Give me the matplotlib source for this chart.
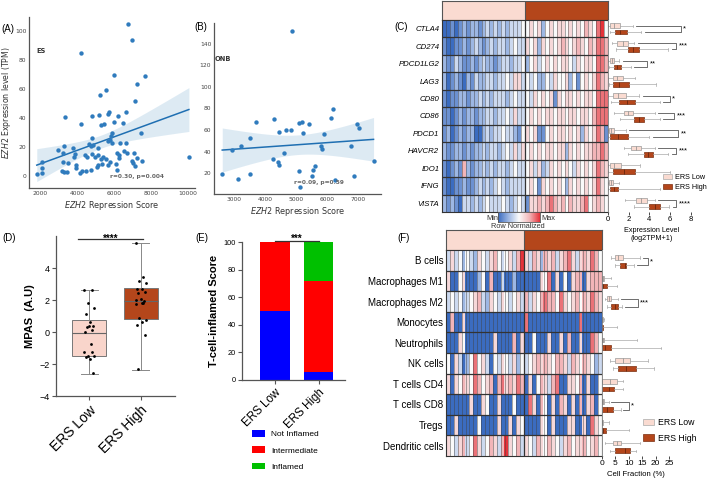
import numpy as np
import matplotlib
matplotlib.use('Agg')
import matplotlib.pyplot as plt
from matplotlib.colors import LinearSegmentedColormap, ListedColormap
from matplotlib.patches import Patch

plt.rcParams['font.family'] = 'Liberation Sans'
plt.rcParams['mathtext.fontset'] = 'dejavusans'

# ---------------- data ----------------
es_x = [6740, 6955, 4200, 6000, 7680, 7225, 5570, 5210, 7120, 5730, 5690, 6230, 6630, 4810,
        5190, 3330, 4200, 6000, 6490, 5310, 5440, 7440, 5870, 5820, 4810, 5780, 3300, 3800,
        4630, 4760, 4880, 5120, 5660, 5910, 6310, 6650, 2990, 3240, 3910, 3820, 4450, 4520,
        4810, 4940, 5310, 5390, 6180, 6290, 6560, 6720, 7100, 7260, 7530, 6940, 7040, 7150,
        6290, 5780, 6110, 6180, 5680, 5350, 5150, 5060, 4760, 4490, 4290, 4160, 3950, 3530,
        3170, 3310, 3440, 3230, 2120, 2120, 2120, 1820, 10040, 3960, 5570, 5150]
es_y = [104.8, 93.8, 85, 69.7, 69, 63.4, 59.5, 55.9, 52, 44.4, 42.8, 41.6, 44.4, 41.4,
        41.9, 40.7, 35.9, 37, 36.8, 35, 35.6, 29.9, 29.4, 27.8, 26, 25, 20.9, 19.5,
        22.3, 20.9, 21.4, 19.1, 24.1, 22.6, 23, 23, 17.7, 15.6, 15, 12.9, 14.5, 12.9,
        15, 13.3, 11.9, 12.9, 16.1, 14.5, 17.4, 15.9, 15.9, 12.2, 10.6, 10.3, 8.8, 6.9,
        12.2, 9.4, 8.1, 4.1, 7.6, 8.1, 7.6, 6.4, 4.1, 3.7, 3.7, 2.3, 5.3, 8.8,
        3.4, 3.0, 2.6, 9.9, 9.9, 5.3, 1.9, 1.2, 12.9, 7.8, 11.7, 14.5]

onb_x = [4870, 6180, 6120, 4290, 3710, 5100, 5200, 5400, 6970, 7030, 4670, 4820, 4460, 5220,
         5890, 3520, 5810, 5830, 6770, 3220, 2950, 4600, 4250, 4400, 4440, 7490, 5590, 5540,
         5100, 5510, 6860, 3520, 3140, 6250, 5130, 2620]
onb_y = [151.7, 79.4, 70.8, 70.1, 67.1, 66.7, 67.1, 65.8, 65.8, 62.1, 60.3, 60.3, 57.8, 56.9,
         56, 52.3, 44.9, 42.4, 45.5, 44.9, 41.8, 38.7, 33.2, 30.2, 27.7, 31.6, 27, 23.3,
         22.1, 17.8, 17.8, 19.6, 14.7, 13.8, 7.6, 19.1]

genes = ['CTLA4', 'CD274', 'PDCD1LG2', 'LAG3', 'CD80', 'CD86', 'PDCD1', 'HAVCR2', 'IDO1', 'IFNG', 'VISTA']
# row-normalized levels, 0 = min (blue), 4 = white, 8 = max (red); 21 ERS Low + 21 ERS High samples
gene_rows = [
    "001012122123232323334" + "454524545545454654784",
    "100112123212323323433" + "545254545654565465776",
    "211321121232212332334" + "245345454554354554776",
    "201210213223323343553" + "434224354452414545765",
    "101122122323233323433" + "435454515455454554777",
    "110121221223323343533" + "454545545545545546777",
    "120121220023233433214" + "545114545545452545761",
    "211221212232332343535" + "454545545525454556676",
    "101216212232323323433" + "453523545454354545765",
    "100112112323234323333" + "454154545425454545754",
    "212103323234333432343" + "155656765646556745654",
]
# (q1, median, q3, whisker low, whisker high)
gene_low = [(0.2, 0.6, 1.2, 0.0, 2.4), (0.9, 1.4, 1.9, 0.4, 2.5), (0.2, 0.4, 0.6, 0.0, 1.1),
            (0.5, 0.9, 1.4, 0.0, 2.6), (0.5, 1.0, 1.7, 0.0, 3.0), (1.5, 1.9, 2.4, 0.6, 4.5),
            (0.1, 0.3, 0.6, 0.0, 1.7), (2.2, 2.7, 3.2, 1.5, 4.5), (0.2, 0.6, 1.3, 0.0, 3.1),
            (0.1, 0.3, 0.5, 0.0, 1.1), (2.7, 3.2, 3.8, 1.6, 4.5)]
gene_high = [(0.7, 1.2, 1.8, 0.2, 3.2), (1.9, 2.4, 3.0, 0.8, 5.8), (0.6, 0.9, 1.3, 0.1, 2.2),
             (0.5, 1.1, 2.0, 0.1, 4.6), (1.1, 1.8, 2.6, 0.3, 5.0), (2.5, 3.0, 3.5, 1.2, 5.0),
             (0.2, 1.0, 1.9, 0.0, 4.0), (3.5, 3.9, 4.3, 1.9, 5.8), (0.5, 1.5, 2.6, 0.0, 6.0),
             (0.2, 0.6, 1.0, 0.0, 5.0), (4.0, 4.5, 5.0, 2.5, 5.9)]
gene_sig = [(7.0, '*'), (6.6, '***'), (3.8, '**'), None, (6.0, '*'), (6.4, '***'),
            (6.8, '**'), (6.6, '***'), None, None, (6.6, '****')]

cells = ['B cells', 'Macrophages M1', 'Macrophages M2', 'Monocytes', 'Neutrophils', 'NK cells',
         'T cells CD4', 'T cells CD8', 'Tregs', 'Dendritic cells']
cell_rows = [
    "35342432543564345368" + "53652656356753565764",
    "50045000240600300200" + "00005470504056605666",
    "34342345632543543453" + "63546766475456465765",
    "06005000000000000000" + "70000000000000700000",
    "00054000000050000605" + "00400050050600500764",
    "40530247453043543524" + "34565654665365465423",
    "50546547645606756576" + "05046536700554605004",
    "00000050054005000400" + "07506405065050605604",
    "00500000400005005054" + "00005405000550050754",
    "54356347534653685463" + "54365465435645564564",
]
cell_low = [(5.0, 6.0, 7.7, 3.5, 14.2), (0.0, 0.3, 0.8, 0.0, 3.5), (1.8, 2.5, 3.5, 1.0, 6.0),
            (0.0, 0.0, 0.3, 0.0, 0.8), (0.0, 0.2, 0.8, 0.0, 13.0), (5.0, 8.0, 10.5, 3.0, 17.0),
            (0.0, 3.0, 5.5, 0.0, 8.0), (0.0, 0.2, 0.8, 0.0, 2.5), (0.0, 0.0, 0.2, 0.0, 2.5),
            (4.0, 5.5, 7.0, 1.0, 14.0)]
cell_high = [(6.8, 8.5, 9.0, 5.0, 12.0), (0.0, 0.5, 2.0, 0.0, 5.5), (3.3, 5.0, 6.0, 2.0, 7.5),
             (0.0, 0.0, 0.2, 0.0, 5.5), (0.0, 1.0, 3.5, 0.0, 22.0), (6.0, 9.0, 12.5, 4.0, 19.5),
             (0.0, 2.5, 4.5, 0.0, 8.0), (0.0, 2.0, 4.0, 0.0, 7.0), (0.0, 0.5, 1.5, 0.0, 10.0),
             (5.0, 8.5, 10.5, 3.0, 12.5)]
cell_sig = [(17.3, '*'), None, (13.6, '***'), None, None, None, None, (10.0, '*'), None, None]

mpas_low = [2.6, 2.65, 1.8, 1.5, 1.1, 0.6, 0.35, 0.3, 0.35, 0.15, 0.0, -0.72, -1.24, -1.24,
            -1.5, -1.5, -1.55, -1.7, -2.55]
mpas_high = [5.57, 3.45, 3.2, 3.08, 2.67, 2.67, 2.5, 2.42, 2.05, 1.95, 2.0, 1.8, 1.76, 1.8,
             0.87, 0.77, 0.45, 0.6, -0.17, -2.34]
mpas_box_low = (-1.5, -0.05, 0.72, -2.6, 2.65)
mpas_box_high = (0.8, 1.95, 2.72, -2.35, 5.55)

groups = ['ERS Low', 'ERS High']
not_inflamed = [50, 5.5]
intermediate = [50, 66.5]
inflamed = [0, 28]

LOW = '#fadbd1'
HIGH = '#b4461b'
W, H = 709, 484
fig = plt.figure(figsize=(W / 100, H / 100), dpi=100)


def add_ax(x0, y0, x1, y1):
    return fig.add_axes([x0 / W, 1 - y1 / H, (x1 - x0) / W, (y1 - y0) / H])


def ftext(x, y, s, **kw):
    fig.text(x / W, 1 - y / H, s, **kw)


def stats(q):
    return dict(q1=q[0], med=q[1], q3=q[2], whislo=q[3], whishi=q[4], fliers=[])


def scatter_panel(ax, x, y, xlim, ylim, xticks, yticks, tag, tagpos, rtext, rpos):
    x = np.array(x, float)
    y = np.array(y, float)
    n = len(x)
    b, a = np.polyfit(x, y, 1)
    xs = np.linspace(x.min(), x.max(), 100)
    resid = y - (a + b * x)
    s2 = np.sum(resid ** 2) / (n - 2)
    se = np.sqrt(s2 * (1 / n + (xs - x.mean()) ** 2 / np.sum((x - x.mean()) ** 2)))
    fit = a + b * xs
    ax.fill_between(xs, fit - 1.99 * se, fit + 1.99 * se, color='#1f77b4', alpha=0.15, lw=0)
    ax.plot(xs, fit, color='#1f6fb2', lw=1.1)
    ax.scatter(x, y, s=10, color='#2f7bbd', lw=0, zorder=3)
    ax.set_xlim(*xlim)
    ax.set_ylim(*ylim)
    ax.set_xticks(xticks)
    ax.set_yticks(yticks)
    ax.tick_params(length=0, labelsize=4.3, labelcolor='#444', pad=2)
    for lbl in ax.get_xticklabels() + ax.get_yticklabels():
        lbl.set_fontfamily('DejaVu Sans')
    for s in ['top', 'right']:
        ax.spines[s].set_visible(False)
    for s in ['left', 'bottom']:
        ax.spines[s].set_color('#555')
        ax.spines[s].set_linewidth(0.9)
    ax.text(tagpos[0], tagpos[1], tag, transform=ax.transAxes, fontsize=4.8, fontweight='bold',
            family='DejaVu Sans', color='#333')
    ax.text(rpos[0], rpos[1], rtext, transform=ax.transAxes, fontsize=4.2, fontweight='bold',
            family='DejaVu Sans', color='#666', ha='center')
    ax.set_xlabel('$\\it{EZH2}$ Repression Score', fontsize=5.8, family='DejaVu Sans',
                  color='#333', labelpad=2)


cmap = LinearSegmentedColormap.from_list('rn', ['#3b6cc0', '#9db7e3', '#fbfbfb', '#f3b7ba', '#e5323a'])


def heatmap(ax, rows, labels, nlow, italic, fs):
    vals = np.array([[int(c) for c in r] for r in rows], float)
    nr, nc = vals.shape
    ax.imshow(vals, cmap=cmap, vmin=0, vmax=8, aspect='auto', interpolation='nearest',
              extent=(0, nc, nr, 0))
    ax.vlines(np.arange(1, nc), 0, nr, color='#404040', lw=0.4, alpha=0.8)
    ax.hlines(np.arange(1, nr), 0, nc, color='#333', lw=0.9)
    ax.vlines(nlow, 0, nr, color='#333', lw=0.9)
    ax.set_xlim(0, nc)
    ax.set_ylim(nr, 0)
    ax.set_xticks([])
    ax.set_yticks(np.arange(nr) + 0.5)
    ax.set_yticklabels(labels, fontsize=fs, fontstyle='italic' if italic else 'normal')
    ax.tick_params(length=0, pad=2)
    for s in ax.spines.values():
        s.set_color('#333')
        s.set_linewidth(0.8)
    return nc


def annot_bar(ax, nlow, nc):
    grp = np.array([[0] * nlow + [1] * (nc - nlow)])
    ax.imshow(grp, cmap=ListedColormap([LOW, HIGH]), vmin=0, vmax=1, aspect='auto',
              interpolation='nearest', extent=(0, nc, 1, 0))
    ax.vlines(nlow, 0, 1, color='#555', lw=0.8)
    ax.set_xlim(0, nc)
    ax.set_xticks([])
    ax.set_yticks([])
    for s in ax.spines.values():
        s.set_color('#555')
        s.set_linewidth(0.8)


def box_panel(ax, low, high, sig, nr, pos_low, pos_high, width, xlim, xticks, fs, off, sfs):
    ax.bxp([stats(q) for q in low], positions=np.arange(nr) + pos_low, widths=width,
           orientation='horizontal', patch_artist=True, showfliers=False, manage_ticks=False,
           boxprops=dict(facecolor=LOW, edgecolor='#999', lw=0.5),
           medianprops=dict(color='#888', lw=0.5), whiskerprops=dict(color='#aaa', lw=0.5),
           capprops=dict(color='#aaa', lw=0.5))
    ax.bxp([stats(q) for q in high], positions=np.arange(nr) + pos_high, widths=width,
           orientation='horizontal', patch_artist=True, showfliers=False, manage_ticks=False,
           boxprops=dict(facecolor=HIGH, edgecolor='#7a2e10', lw=0.5),
           medianprops=dict(color='#5a200a', lw=0.5), whiskerprops=dict(color='#aaa', lw=0.5),
           capprops=dict(color='#aaa', lw=0.5))
    for i, sg in enumerate(sig):
        if sg is None:
            continue
        bx, star = sg
        y0 = i + pos_low
        y1 = i + pos_high
        ax.plot([low[i][4] + off, bx, bx, high[i][4] + off], [y0, y0, y1, y1],
                color='#555', lw=0.6, clip_on=False)
        ax.text(bx + off * 0.6, (y0 + y1) / 2, star, fontsize=sfs, va='center', ha='left')
    ax.set_xlim(*xlim)
    ax.set_ylim(nr, 0)
    ax.set_xticks(xticks)
    ax.set_yticks([])
    ax.tick_params(axis='x', labelsize=fs, length=2, width=0.5, pad=1)
    for s in ['top', 'right', 'bottom']:
        ax.spines[s].set_visible(False)
    ax.spines['left'].set_color('#777')
    ax.spines['left'].set_linewidth(0.6)


def ers_legend(ax, x, y, fs, spacing):
    ax.legend(handles=[Patch(facecolor=LOW, edgecolor='#aaa', lw=0.5, label='ERS Low'),
                       Patch(facecolor=HIGH, edgecolor='#7a2e10', lw=0.5, label='ERS High')],
              loc='upper left', bbox_to_anchor=(x / W, 1 - y / H), bbox_transform=fig.transFigure,
              frameon=False, fontsize=fs, handlelength=1.3, handleheight=0.7, labelspacing=spacing,
              borderpad=0, handletextpad=0.4, borderaxespad=0)


# ---------------- (A) ----------------
axA = add_ax(29, 17, 195, 188)
scatter_panel(axA, es_x, es_y, (1400, 10370), (-8.3, 109.7), [2000, 4000, 6000, 8000, 10000],
              [0, 20, 40, 60, 80, 100], 'ES', (0.045, 0.79), 'r=0.30, p=0.004', (0.65, 0.06))
axA.set_ylabel('$\\it{EZH2}$ Expression level (TPM)', fontsize=5.6, family='DejaVu Sans',
               color='#333', labelpad=1.5)
ftext(1, 29, '(A)', fontsize=7, va='center')

# ---------------- (B) ----------------
axB = add_ax(214, 23, 381, 194)
scatter_panel(axB, onb_x, onb_y, (2355, 7730), (0.9, 159), [3000, 4000, 5000, 6000, 7000],
              [20, 40, 60, 80, 100, 120, 140], 'ONB', (0.005, 0.78), 'r=0.09, p=0.59', (0.63, 0.06))
ftext(194, 27, '(B)', fontsize=7, va='center')

# ---------------- (C) ----------------
axCa = add_ax(442, 1, 608, 20)
axC = add_ax(442, 20, 608, 212)
nc = heatmap(axC, gene_rows, genes, 21, True, 5.6)
annot_bar(axCa, 21, nc)
ftext(394, 27, '(C)', fontsize=7, va='center')

axCb = add_ax(608, 20, 695, 212)
box_panel(axCb, gene_low, gene_high, gene_sig, len(genes), 0.33, 0.69, 0.27, (0, 8.4),
          [0, 2, 4, 6, 8], 5.5, 0.35, 5.5)
axCb.set_xlabel('Expression Level\n(log2TPM+1)', fontsize=5.2, labelpad=3, linespacing=1.1)
ers_legend(axCb, 663, 174, 5.2, 0.35)

axCc = add_ax(498, 212, 540, 222)
axCc.imshow(np.linspace(0, 8, 200)[None, :], cmap=cmap, vmin=0, vmax=8, aspect='auto')
axCc.set_xticks([])
axCc.set_yticks([])
for s in axCc.spines.values():
    s.set_color('#555')
    s.set_linewidth(0.6)
ftext(492, 218, 'Min', fontsize=5.3, ha='center', va='center', color='#333')
ftext(548, 218, 'Max', fontsize=5.3, ha='center', va='center', color='#333')
ftext(518, 227, 'Row Normalized', fontsize=5.3, ha='center', va='center', color='#333')

# ---------------- (D) ----------------
axD = add_ax(56, 236, 175, 396)
bp = axD.bxp([stats(mpas_box_low), stats(mpas_box_high)], positions=[0, 1], widths=0.66,
             patch_artist=True, showfliers=False, manage_ticks=False,
             boxprops=dict(edgecolor='#777', lw=0.7), medianprops=dict(color='#666', lw=0.8),
             whiskerprops=dict(color='#888', lw=0.7), capprops=dict(color='#888', lw=0.7),
             capwidths=0.33)
bp['boxes'][0].set_facecolor('#f9d5cb')
bp['boxes'][1].set_facecolor(HIGH)
jit = np.array([-0.1, 0.05, -0.03, 0.1, -0.07, 0.02, 0.08, -0.05, 0.0, 0.06, -0.09, 0.03])
axD.scatter(0 + jit[np.arange(len(mpas_low)) % len(jit)], mpas_low, s=4, color='black', lw=0, zorder=4)
axD.scatter(1 + jit[np.arange(len(mpas_high)) % len(jit)], mpas_high, s=4, color='black', lw=0, zorder=4)
axD.set_xlim(-0.65, 1.67)
axD.set_ylim(-4, 6)
axD.set_yticks([-4, -2, 0, 2, 4])
axD.set_xticks([0, 1])
axD.set_xticklabels(groups, rotation=45, ha='right', rotation_mode='anchor', fontsize=10)
axD.tick_params(axis='y', labelsize=6.5, length=3, width=0.8, color='#555', pad=1.5)
axD.tick_params(axis='x', length=3, width=0.8, color='#555', pad=2)
for s in ['top', 'right']:
    axD.spines[s].set_visible(False)
for s in ['left', 'bottom']:
    axD.spines[s].set_color('#555')
    axD.spines[s].set_linewidth(0.9)
axD.set_ylabel('MPAS  (A.U)', fontsize=8, fontweight='bold', labelpad=3)
axD.plot([-0.22, 1.05], [5.8, 5.8], color='#333', lw=0.9, clip_on=False)
axD.text(0.42, 5.85, '****', fontsize=7, fontweight='bold', ha='center', va='center')
ftext(2, 238, '(D)', fontsize=7, va='center')

# ---------------- (E) ----------------
axE = add_ax(242, 242, 345, 380)
xe = np.arange(len(groups))
axE.bar(xe, not_inflamed, width=0.67, color='#0000ff', label='Not Inflamed')
axE.bar(xe, intermediate, width=0.67, bottom=not_inflamed, color='#ff0000', label='Intermediate')
axE.bar(xe, inflamed, width=0.67, bottom=np.add(not_inflamed, intermediate), color='#00c000',
        label='Inflamed')
axE.set_xlim(-0.75, 1.6)
axE.set_ylim(0, 100)
axE.set_yticks([0, 20, 40, 60, 80, 100])
axE.set_xticks(xe)
axE.set_xticklabels(groups, rotation=45, ha='right', rotation_mode='anchor', fontsize=8.3)
axE.tick_params(axis='y', labelsize=5.3, length=3, width=0.8, color='#555', pad=1.5)
axE.tick_params(axis='x', length=3, width=0.8, color='#555', pad=2)
for s in ['top', 'right']:
    axE.spines[s].set_visible(False)
for s in ['left', 'bottom']:
    axE.spines[s].set_color('#555')
    axE.spines[s].set_linewidth(0.9)
axE.set_ylabel('T-cell-inflamed Score', fontsize=8, fontweight='bold', labelpad=3)
axE.plot([0, 1], [101, 101], color='#333', lw=0.9, clip_on=False)
axE.text(0.5, 102.5, '***', fontsize=7, fontweight='bold', ha='center', va='center')
axE.legend(loc='upper left', bbox_to_anchor=(252 / W, 1 - 430 / H), bbox_transform=fig.transFigure,
           frameon=False, fontsize=6, handlelength=1.6, handleheight=0.9, labelspacing=0.95,
           borderpad=0, handletextpad=0.7, borderaxespad=0)
ftext(195, 238, '(E)', fontsize=7, va='center')

# ---------------- (F) ----------------
axFa = add_ax(446, 230, 602, 250)
axF = add_ax(446, 250, 602, 456)
ncf = heatmap(axF, cell_rows, cells, 20, False, 7)
annot_bar(axFa, 20, ncf)
ftext(397, 238, '(F)', fontsize=7, va='center')

axFb = add_ax(602, 250, 669, 456)
box_panel(axFb, cell_low, cell_high, cell_sig, len(cells), 0.37, 0.75, 0.23, (0, 25),
          [0, 5, 10, 15, 20, 25], 6, 1.0, 5.5)
axFb.set_xlabel('Cell Fraction (%)', fontsize=5.6, labelpad=3)
ers_legend(axFb, 643, 418, 6.3, 0.75)

fig.savefig('out.png', dpi=100)
